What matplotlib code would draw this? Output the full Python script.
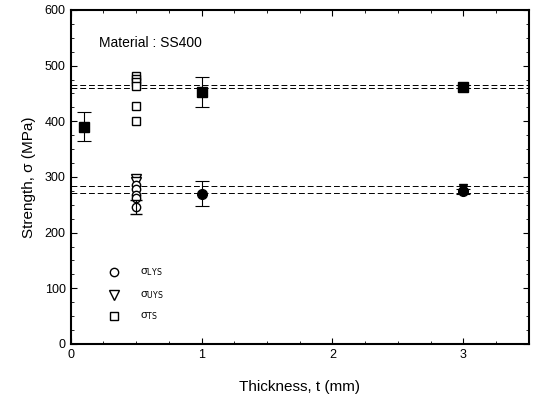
import matplotlib
matplotlib.use('Agg')
import matplotlib.pyplot as plt
from matplotlib.ticker import MultipleLocator

plt.rcParams['font.family'] = ['Liberation Sans', 'DejaVu Sans']

# individual test results at t = 0.5 mm (open markers)
t_open = [0.5]
lys_open = [285, 278, 268, 262, 246]
uys_open = [296, 291]
ts_open = [482, 476, 470, 464, 428, 401]

# mean values with scatter (filled markers)
t_ts = [0.1, 1.0, 3.0]
ts_mean = [390, 452, 462]
ts_err = [26, 27, 3]
t_lys = [1.0, 3.0]
lys_mean = [270, 274]
lys_err = [23, 4]
t_uys = [3.0]
uys_mean = [280]
lys_single_err = [12]   # error bar on lowest open circle

# reference levels (dashed)
levels_ts = [465, 459]
levels_ys = [284, 272]

fig = plt.figure(figsize=(5.39, 3.99), dpi=100)
ax = fig.add_axes([0.131, 0.138, 0.85, 0.837])

for y in levels_ts + levels_ys:
    ax.axhline(y, color='black', ls=(0, (6, 3)), lw=0.7)

ax.plot(t_open * len(ts_open), ts_open, 's', mfc='white', mec='black', ms=6, mew=1)
ax.plot(t_open * len(uys_open), uys_open, 'v', mfc='white', mec='black', ms=6.5, mew=1)
ax.plot(t_open * len(lys_open), lys_open, 'o', mfc='white', mec='black', ms=6, mew=1)
ax.errorbar(t_open, [lys_open[-1]], yerr=lys_single_err, fmt='none',
            ecolor='black', elinewidth=0.8, capsize=4)

ax.errorbar(t_ts, ts_mean, yerr=ts_err, fmt='s', color='black', ms=6.5,
            elinewidth=0.8, capsize=5, capthick=0.8)
ax.errorbar(t_lys, lys_mean, yerr=lys_err, fmt='o', color='black', ms=7,
            elinewidth=0.8, capsize=5, capthick=0.8)
ax.plot(t_uys, uys_mean, 'v', color='black', ms=6)

# legend drawn as markers + text
leg_x = 0.33
ax.plot(leg_x, 129, 'o', mfc='white', mec='black', ms=6, mew=1)
ax.plot(leg_x, 88, 'v', mfc='white', mec='black', ms=6.5, mew=1)
ax.plot(leg_x, 50, 's', mfc='white', mec='black', ms=6, mew=1)
ax.text(leg_x + 0.2, 129, r'σ$_{\mathrm{LYS}}$', fontsize=8, va='center')
ax.text(leg_x + 0.2, 88, r'σ$_{\mathrm{UYS}}$', fontsize=8, va='center')
ax.text(leg_x + 0.2, 50, r'σ$_{\mathrm{TS}}$', fontsize=8, va='center')

ax.text(0.22, 541, 'Material : SS400', fontsize=10, va='center')

ax.set_xlim(0, 3.5)
ax.set_ylim(0, 600)
ax.xaxis.set_major_locator(MultipleLocator(1))
ax.xaxis.set_minor_locator(MultipleLocator(0.25))
ax.yaxis.set_major_locator(MultipleLocator(100))
ax.yaxis.set_minor_locator(MultipleLocator(25))
ax.tick_params(which='both', direction='in', top=True, right=True, labelsize=9)
ax.tick_params(which='major', length=4)
ax.tick_params(which='minor', length=2)
for s in ax.spines.values():
    s.set_linewidth(1.5)

ax.set_xlabel('Thickness, t (mm)', fontsize=11, labelpad=14)
ax.set_ylabel('Strength, σ (MPa)', fontsize=11, labelpad=6)

fig.savefig('out.png', dpi=100)
